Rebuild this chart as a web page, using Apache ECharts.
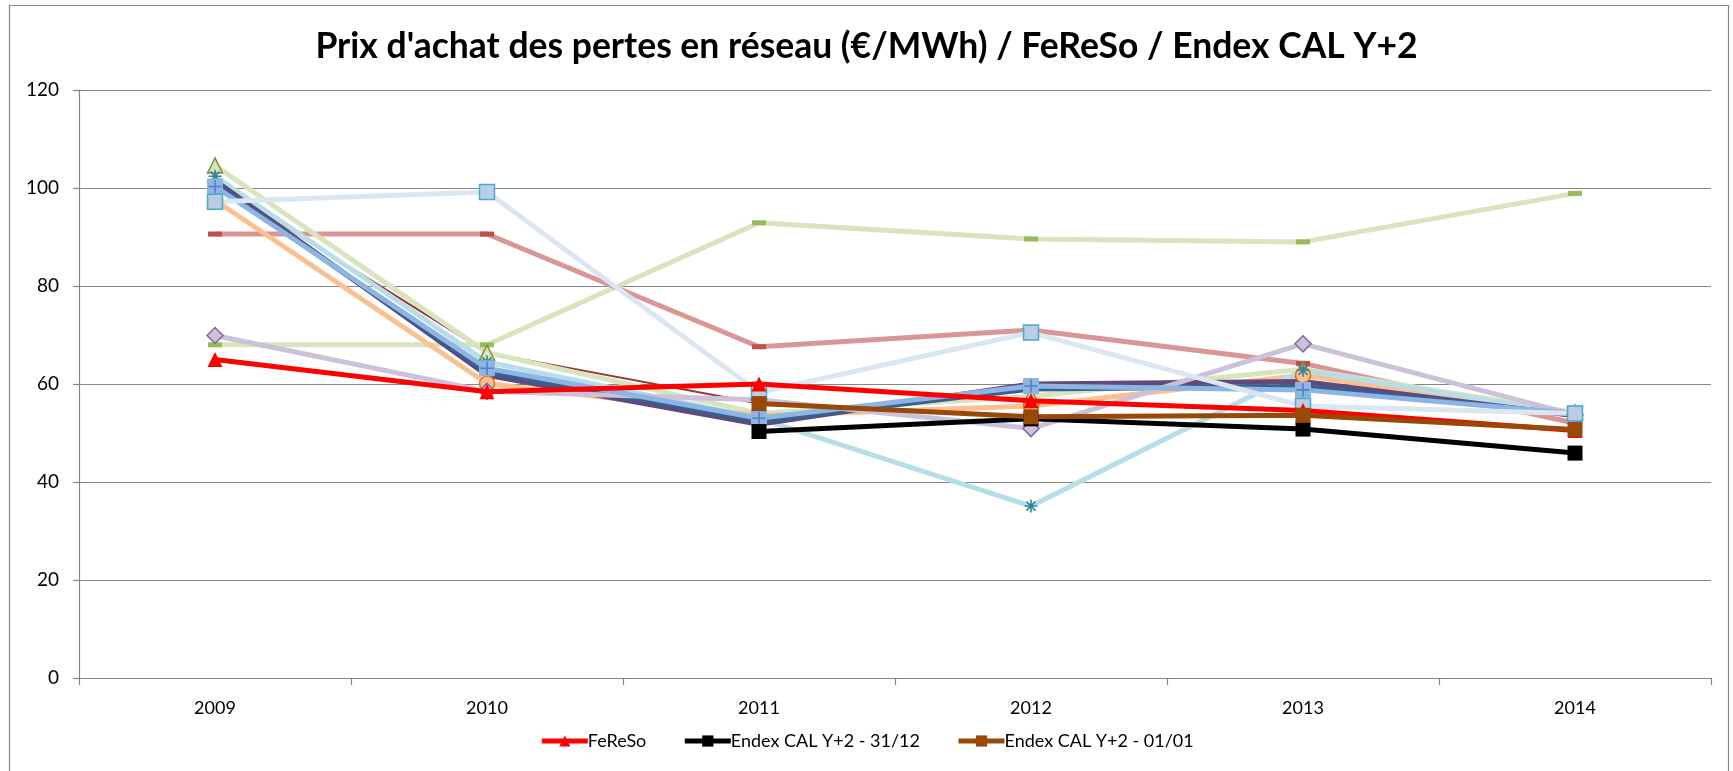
<!DOCTYPE html>
<html>
<head>
<meta charset="utf-8">
<script src="https://cdn.jsdelivr.net/npm/echarts@6/dist/echarts.min.js"></script>
<style>
html,body{margin:0;padding:0;background:#fff;}
#c{width:1733px;height:771px;}
</style>
</head>
<body>
<div id="c"></div>
<script>
var categories = ['2009','2010','2011','2012','2013','2014'];
var yTicks = [0,20,40,60,80,100,120];

var fereso      = [65.0, 58.4, 60.0, 56.6, 54.6, 50.5];
var endex3112   = [null, null, 50.3, 52.9, 50.8, 45.9];
var endex0101   = [null, null, 56.0, 53.3, 53.6, 50.7];

var greenDash   = [68.0, 68.0, 92.9, 89.6, 89.0, 98.9];
var pinkDash    = [90.6, 90.6, 67.6, 71.0, 64.2, 52.0];
var lightBlueSq = [97.2, 99.2, 58.3, 70.5, 55.5, 54.0];
var cyanStar    = [102.4, 64.5, 53.0, 35.1, 62.8, 53.8];
var darkPurple  = [101.5, 61.8, 51.8, 60.0, 60.5, 53.5];
var darkBlue    = [100.8, 62.5, 52.5, 59.0, 59.5, 53.8];
var bluePlus    = [100.3, 63.2, 53.0, 59.6, 58.8, 54.0];
var orangeCirc  = [97.5, 60.1, 53.5, 55.5, 61.8, 53.5];
var lilacDiam   = [69.9, 58.5, 56.8, 50.9, 68.2, 53.7];
var greenTri    = [104.6, 66.4, 54.0, 57.5, 63.0, 54.2];
var darkRed     = [101.0, 66.4, 56.0, null, null, null];

var FONT = 'Lato, "Open Sans", sans-serif';
var starPath = 'path://M5,0L5,10M0,5L10,5M1.5,1.5L8.5,8.5M8.5,1.5L1.5,8.5';
var plusPath = 'path://M5,0L5,10M0,5L10,5';
var LW = 5;

function line(name, data, color, width, symbol, size, itemStyle, extra) {
  var s = {
    name: name, type: 'line', data: data,
    lineStyle: {color: color, width: width},
    itemStyle: itemStyle || {color: color},
    symbol: symbol || 'none', symbolSize: size || 0,
    showAllSymbol: true, connectNulls: false,
    emphasis: {disabled: true}, z: 2
  };
  if (extra) for (var k in extra) s[k] = extra[k];
  return s;
}
function overlay(data, path, color, size) {
  return {
    name: '_ov', type: 'line', data: data,
    lineStyle: {opacity: 0, width: 0},
    symbol: path, symbolSize: size, showAllSymbol: true,
    itemStyle: {color: 'rgba(0,0,0,0)', borderColor: color, borderWidth: 1.6},
    emphasis: {disabled: true}, z: 2
  };
}

var chart = echarts.init(document.getElementById('c'), null, {renderer: 'canvas'});
chart.setOption({
  animation: false,
  backgroundColor: '#fff',
  title: {
    text: "Prix d'achat des pertes en réseau (€/MWh) / FeReSo / Endex CAL Y+2",
    left: 'center', top: 24,
    textStyle: {fontFamily: FONT, fontWeight: 'bold', fontSize: 35.5, color: '#000'}
  },
  graphic: [{
    type: 'rect', shape: {x: 9.5, y: 5.5, width: 1719, height: 800},
    style: {fill: 'none', stroke: '#868686', lineWidth: 1.2}, silent: true, z: -1
  }],
  legend: {
    data: ['FeReSo', 'Endex CAL Y+2 - 31/12', 'Endex CAL Y+2 - 01/01'],
    bottom: 16, left: 'center', itemWidth: 46, itemHeight: 14, itemGap: 36,
    lineStyle: {width: 5},
    textStyle: {fontFamily: FONT, fontSize: 18, color: '#000', padding: [0,0,0,-5]}
  },
  grid: {left: 79, right: 22, top: 90, bottom: 93, containLabel: false},
  xAxis: {
    type: 'category', data: categories, boundaryGap: true,
    axisLine: {lineStyle: {color: '#868686', width: 1.2}},
    axisTick: {show: true, length: 7, lineStyle: {color: '#868686', width: 1.2}},
    axisLabel: {fontFamily: FONT, fontSize: 18, color: '#000', margin: 21},
    splitLine: {show: false}
  },
  yAxis: {
    type: 'value', min: yTicks[0], max: yTicks[yTicks.length-1], interval: 20,
    axisLine: {show: true, lineStyle: {color: '#868686', width: 1.2}},
    axisTick: {show: true, inside: false, length: 6, lineStyle: {color: '#868686', width: 1.2}},
    axisLabel: {fontFamily: FONT, fontSize: 19, color: '#000', margin: 20},
    splitLine: {lineStyle: {color: '#868686', width: 1.2}}
  },
  series: [
    line('darkRed', darkRed, '#953735', 2),
    line('greenDash', greenDash, '#D7E4BD', LW, 'rect', [14,5], {color: '#9BBB59'}),
    line('pinkDash', pinkDash, '#D99694', LW, 'rect', [14,5], {color: '#C0504D'}),
    line('greenTri', greenTri, '#D7E4BD', LW, 'triangle', 15, {color: '#D7E4BD', borderColor: '#77933C', borderWidth: 1.5}),
    line('orangeCirc', orangeCirc, '#FAC090', LW, 'circle', 15, {color: '#FAC090', borderColor: '#E46C0A', borderWidth: 1.5}),
    line('cyanStar', cyanStar, '#B7DEE8', LW, starPath, 13, {color: 'rgba(0,0,0,0)', borderColor: '#31859C', borderWidth: 1.6}),
    line('darkPurple', darkPurple, '#604A7B', LW),
    line('darkBlue', darkBlue, '#376092', LW),
    line('lilacDiam', lilacDiam, '#CCC1DA', LW, 'diamond', 16, {color: '#CCC1DA', borderColor: '#8064A2', borderWidth: 1.5}),
    line('bluePlus', bluePlus, '#8EB4E3', LW, 'rect', 15, {color: '#8EB4E3', borderColor: '#8EB4E3', borderWidth: 1}),
    overlay(bluePlus, plusPath, '#4F81BD', 13),
    line('lightBlueSq', lightBlueSq, '#DCE6F2', LW, 'rect', 15, {color: '#B9CDE5', borderColor: '#4BACC6', borderWidth: 1.5}),
    line('FeReSo', fereso, '#FF0000', LW, 'triangle', 15, {color: '#FF0000'}, {z: 5}),
    line('Endex CAL Y+2 - 31/12', endex3112, '#000000', LW, 'rect', 15, {color: '#000000'}, {z: 5}),
    line('Endex CAL Y+2 - 01/01', endex0101, '#984807', LW, 'rect', 15, {color: '#984807'}, {z: 5})
  ]
});
</script>
</body>
</html>
